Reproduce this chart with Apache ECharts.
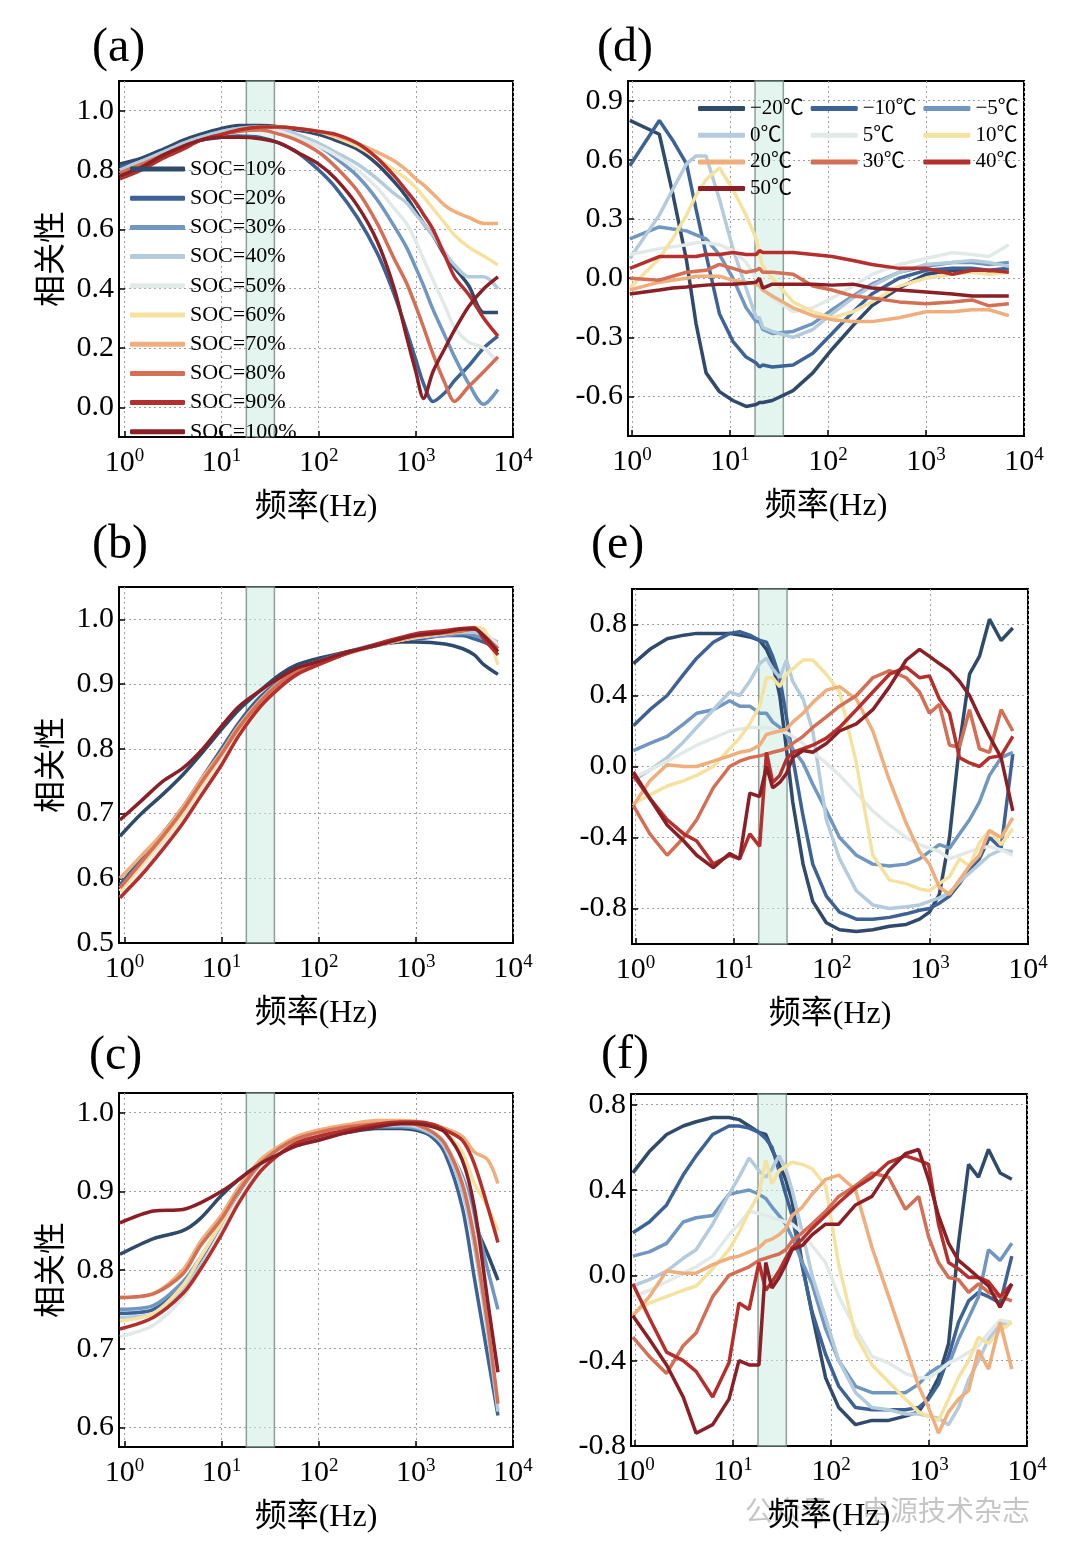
<!DOCTYPE html>
<html><head><meta charset="utf-8">
<script src="https://cdn.jsdelivr.net/npm/echarts@6/dist/echarts.min.js"></script>
<style>html,body{margin:0;padding:0;background:#fff}#c{width:1079px;height:1558px}</style>
</head><body><div id="c"></div>
<script>
const FONT = "'Liberation Serif','Noto Sans CJK SC',serif";

const socNames = ['SOC=10%','SOC=20%','SOC=30%','SOC=40%','SOC=50%','SOC=60%','SOC=70%','SOC=80%','SOC=90%','SOC=100%'];
const tempNames = ['\u221220\u2103','\u221210\u2103','\u22125\u2103','0\u2103','5\u2103','10\u2103','20\u2103','30\u2103','40\u2103','50\u2103'];
const palette = ['#2f4a6b','#3d6396','#7097c2','#b3cbdc','#e1eae9','#f6e2a0','#efae7c','#d46f55','#b5302c','#8a1f26'];
const band = [18, 35];

// (a)
const freqA = [0.9,1.5,2.5,4,6,10,15,25,40,60,100,150,250,400,600,800,1000,1200,1500,2000,2500,3500,5000,7000];
const corrA = [
  [0.82,0.84,0.87,0.90,0.92,0.94,0.95,0.95,0.945,0.935,0.92,0.90,0.87,0.82,0.76,0.71,0.66,0.62,0.58,0.51,0.47,0.41,0.32,0.32],
  [0.81,0.83,0.86,0.88,0.90,0.91,0.915,0.91,0.89,0.86,0.80,0.74,0.64,0.52,0.38,0.26,0.16,0.08,0.02,0.05,0.09,0.14,0.20,0.24],
  [0.80,0.83,0.86,0.89,0.91,0.93,0.94,0.94,0.93,0.91,0.88,0.84,0.78,0.70,0.61,0.54,0.47,0.41,0.33,0.24,0.17,0.08,0.01,0.06],
  [0.80,0.83,0.86,0.89,0.91,0.93,0.94,0.945,0.94,0.92,0.89,0.86,0.82,0.77,0.72,0.69,0.65,0.62,0.58,0.52,0.48,0.44,0.44,0.40],
  [0.79,0.82,0.85,0.88,0.90,0.92,0.935,0.94,0.93,0.91,0.88,0.85,0.80,0.74,0.67,0.62,0.56,0.50,0.43,0.34,0.27,0.22,0.20,0.15],
  [0.79,0.82,0.85,0.88,0.90,0.92,0.935,0.945,0.945,0.94,0.93,0.91,0.88,0.84,0.80,0.77,0.74,0.71,0.67,0.62,0.58,0.54,0.51,0.48],
  [0.78,0.81,0.84,0.87,0.90,0.92,0.935,0.945,0.945,0.94,0.93,0.915,0.89,0.86,0.83,0.80,0.77,0.75,0.72,0.68,0.66,0.64,0.62,0.62],
  [0.79,0.82,0.85,0.88,0.90,0.92,0.93,0.935,0.92,0.90,0.86,0.81,0.73,0.62,0.50,0.42,0.34,0.27,0.18,0.08,0.02,0.07,0.12,0.17],
  [0.77,0.80,0.84,0.87,0.90,0.92,0.935,0.945,0.945,0.94,0.93,0.92,0.89,0.84,0.78,0.73,0.69,0.65,0.60,0.51,0.44,0.38,0.30,0.24],
  [0.78,0.81,0.85,0.88,0.90,0.91,0.91,0.905,0.89,0.86,0.82,0.77,0.68,0.56,0.40,0.24,0.12,0.03,0.12,0.20,0.26,0.34,0.40,0.44]
];
// (b)
const freqB = [0.9,1.5,2.5,4,6,10,15,25,40,60,100,200,400,700,1000,2000,3000,4000,5000,7000];
const corrB = [
  [0.665,0.70,0.73,0.76,0.79,0.83,0.86,0.89,0.915,0.93,0.94,0.95,0.96,0.965,0.965,0.962,0.955,0.945,0.93,0.915],
  [0.59,0.63,0.67,0.71,0.75,0.80,0.84,0.88,0.905,0.92,0.935,0.95,0.96,0.97,0.97,0.975,0.975,0.97,0.965,0.955],
  [0.585,0.625,0.665,0.705,0.745,0.795,0.835,0.875,0.905,0.92,0.935,0.95,0.962,0.97,0.972,0.975,0.978,0.975,0.97,0.96],
  [0.58,0.62,0.66,0.70,0.74,0.79,0.83,0.872,0.90,0.918,0.932,0.948,0.96,0.968,0.972,0.978,0.98,0.98,0.975,0.965],
  [0.57,0.61,0.65,0.695,0.735,0.785,0.828,0.87,0.90,0.918,0.932,0.948,0.96,0.968,0.972,0.978,0.982,0.985,0.98,0.96],
  [0.58,0.62,0.66,0.70,0.74,0.79,0.83,0.872,0.90,0.918,0.932,0.948,0.96,0.968,0.974,0.98,0.985,0.988,0.985,0.93],
  [0.60,0.635,0.67,0.71,0.75,0.795,0.835,0.875,0.903,0.92,0.933,0.948,0.96,0.968,0.973,0.978,0.982,0.985,0.975,0.945],
  [0.585,0.625,0.665,0.705,0.745,0.792,0.832,0.873,0.902,0.92,0.933,0.948,0.96,0.97,0.975,0.98,0.982,0.985,0.975,0.955],
  [0.57,0.605,0.645,0.685,0.725,0.775,0.82,0.865,0.895,0.915,0.93,0.948,0.962,0.972,0.978,0.983,0.986,0.987,0.97,0.945],
  [0.69,0.72,0.75,0.77,0.795,0.835,0.865,0.89,0.91,0.925,0.935,0.95,0.96,0.97,0.975,0.98,0.985,0.985,0.975,0.95]
];
// (c)
const freqC = [0.9,2,4,6,10,15,25,40,60,100,200,400,700,1000,1500,2000,3000,4000,5500,7000];
const corrC = [
  [0.82,0.84,0.85,0.865,0.895,0.915,0.935,0.95,0.96,0.968,0.975,0.98,0.98,0.978,0.97,0.955,0.91,0.86,0.82,0.787],
  [0.745,0.75,0.78,0.81,0.855,0.895,0.93,0.95,0.962,0.97,0.978,0.982,0.982,0.98,0.968,0.948,0.88,0.79,0.69,0.615],
  [0.75,0.755,0.785,0.815,0.86,0.90,0.932,0.952,0.963,0.97,0.978,0.982,0.982,0.98,0.972,0.958,0.92,0.87,0.80,0.75],
  [0.74,0.745,0.775,0.805,0.85,0.89,0.928,0.95,0.962,0.97,0.978,0.983,0.984,0.982,0.972,0.955,0.90,0.83,0.72,0.62],
  [0.715,0.73,0.765,0.80,0.85,0.89,0.928,0.95,0.963,0.972,0.98,0.985,0.986,0.984,0.976,0.962,0.915,0.85,0.75,0.675],
  [0.735,0.745,0.78,0.815,0.86,0.90,0.935,0.955,0.967,0.975,0.983,0.988,0.99,0.988,0.982,0.975,0.95,0.91,0.88,0.85],
  [0.765,0.77,0.80,0.835,0.87,0.905,0.94,0.958,0.97,0.978,0.985,0.99,0.99,0.989,0.985,0.98,0.97,0.95,0.94,0.91],
  [0.765,0.77,0.795,0.83,0.865,0.90,0.935,0.955,0.967,0.975,0.982,0.986,0.987,0.985,0.975,0.96,0.91,0.84,0.73,0.63],
  [0.725,0.74,0.77,0.80,0.845,0.885,0.925,0.948,0.962,0.97,0.978,0.985,0.988,0.988,0.985,0.978,0.965,0.935,0.88,0.835],
  [0.86,0.875,0.877,0.885,0.90,0.915,0.935,0.948,0.958,0.965,0.975,0.982,0.986,0.986,0.982,0.975,0.94,0.88,0.76,0.67]
];
// (d)
const freqD = [0.95,1.9,2.6,3.6,4.5,5.7,7.8,10.7,14.6,18.5,20,21.6,27,44,70,110,180,280,530,1000,1860,2950,4400,7000];
const corrD = [
  [0.80,0.73,0.43,0.09,-0.23,-0.48,-0.575,-0.62,-0.65,-0.64,-0.63,-0.63,-0.62,-0.57,-0.48,-0.36,-0.24,-0.14,-0.05,0.02,0.04,0.04,0.03,0.03],
  [0.57,0.80,0.70,0.58,0.35,0.12,-0.18,-0.32,-0.40,-0.43,-0.45,-0.44,-0.45,-0.44,-0.38,-0.28,-0.17,-0.08,0.0,0.04,0.05,0.05,0.04,0.05],
  [0.20,0.26,0.25,0.24,0.22,0.20,0.12,0.0,-0.15,-0.22,-0.22,-0.26,-0.28,-0.27,-0.23,-0.16,-0.09,-0.03,0.03,0.06,0.08,0.08,0.07,0.08],
  [0.10,0.32,0.45,0.58,0.62,0.62,0.40,0.15,-0.05,-0.20,-0.20,-0.25,-0.27,-0.30,-0.26,-0.18,-0.10,-0.04,0.03,0.07,0.08,0.09,0.08,0.06],
  [0.12,0.15,0.16,0.17,0.18,0.18,0.17,0.14,0.08,0.0,-0.03,-0.06,-0.10,-0.17,-0.15,-0.10,-0.04,0.02,0.07,0.10,0.13,0.12,0.11,0.17],
  [-0.05,0.10,0.20,0.32,0.42,0.50,0.56,0.45,0.32,0.20,0.12,0.06,0.0,-0.12,-0.17,-0.20,-0.17,-0.12,-0.04,0.0,0.02,0.03,0.02,0.03],
  [-0.06,-0.02,-0.01,0.0,0.01,0.01,0.01,-0.01,-0.02,-0.03,-0.04,-0.06,-0.09,-0.15,-0.19,-0.21,-0.22,-0.22,-0.20,-0.17,-0.17,-0.16,-0.16,-0.19],
  [0.0,-0.01,0.01,0.03,0.035,0.04,0.07,0.05,0.03,0.04,0.05,0.03,0.03,0.02,-0.04,-0.06,-0.09,-0.10,-0.12,-0.13,-0.12,-0.11,-0.14,-0.13],
  [0.05,0.11,0.11,0.11,0.11,0.12,0.12,0.13,0.12,0.12,0.14,0.13,0.13,0.13,0.12,0.11,0.09,0.07,0.05,0.05,0.02,0.04,0.04,0.03],
  [-0.08,-0.06,-0.05,-0.045,-0.04,-0.035,-0.03,-0.03,-0.025,-0.02,0.0,-0.05,-0.03,-0.03,-0.03,-0.035,-0.03,-0.05,-0.06,-0.07,-0.08,-0.09,-0.09,-0.09]
];
// (e) and (f) share frequencies
const freqEF = [0.95,1.4,2.1,3.1,4.2,6.2,9.1,11.5,14.6,18.4,21.6,25,29.5,34.5,40,51,64,88,120,178,262,388,574,784,990,1250,1585,2000,2535,3200,4050,5320,7000];
const corrE = [
  [0.58,0.66,0.72,0.74,0.75,0.75,0.75,0.74,0.73,0.71,0.66,0.58,0.40,0.10,-0.20,-0.55,-0.76,-0.88,-0.92,-0.93,-0.92,-0.90,-0.89,-0.86,-0.82,-0.72,-0.40,0.12,0.52,0.62,0.83,0.71,0.78],
  [0.23,0.32,0.40,0.52,0.61,0.70,0.75,0.76,0.74,0.71,0.70,0.62,0.50,0.28,0.05,-0.28,-0.55,-0.73,-0.82,-0.86,-0.86,-0.85,-0.83,-0.81,-0.80,-0.77,-0.73,-0.66,-0.58,-0.52,-0.40,-0.46,0.07],
  [0.09,0.13,0.17,0.24,0.30,0.32,0.37,0.34,0.34,0.30,0.30,0.25,0.22,0.18,0.10,0.02,-0.10,-0.25,-0.40,-0.50,-0.55,-0.56,-0.55,-0.52,-0.48,-0.44,-0.46,-0.38,-0.30,-0.20,-0.05,0.05,0.08],
  [-0.08,-0.02,0.05,0.14,0.22,0.32,0.42,0.40,0.48,0.58,0.61,0.55,0.50,0.60,0.48,0.38,0.20,-0.30,-0.52,-0.70,-0.78,-0.80,-0.79,-0.78,-0.76,-0.74,-0.71,-0.65,-0.60,-0.55,-0.50,-0.47,-0.48],
  [-0.06,-0.02,0.03,0.08,0.12,0.16,0.20,0.21,0.22,0.22,0.22,0.21,0.20,0.19,0.17,0.13,0.08,0.02,-0.05,-0.15,-0.25,-0.33,-0.40,-0.44,-0.46,-0.48,-0.52,-0.50,-0.48,-0.46,-0.45,-0.47,-0.50],
  [-0.21,-0.16,-0.11,-0.08,-0.05,0.0,0.10,0.16,0.24,0.34,0.50,0.50,0.45,0.52,0.55,0.60,0.60,0.52,0.42,0.02,-0.50,-0.64,-0.66,-0.69,-0.70,-0.66,-0.62,-0.52,-0.56,-0.43,-0.36,-0.44,-0.35],
  [-0.22,-0.08,0.01,0.0,0.0,0.03,0.06,0.08,0.09,0.12,0.18,0.19,0.20,0.21,0.25,0.30,0.36,0.43,0.45,0.38,0.20,-0.08,-0.32,-0.48,-0.55,-0.68,-0.72,-0.64,-0.56,-0.50,-0.36,-0.40,-0.29],
  [-0.22,-0.38,-0.50,-0.40,-0.30,-0.12,0.0,0.03,0.05,0.06,0.07,0.08,0.09,0.10,0.13,0.17,0.22,0.28,0.34,0.40,0.50,0.54,0.50,0.42,0.30,0.35,0.12,0.11,0.32,0.10,0.08,0.32,0.20],
  [-0.05,-0.18,-0.30,-0.38,-0.42,-0.55,-0.50,-0.52,-0.38,-0.45,0.08,-0.09,-0.05,0.04,0.08,0.10,0.12,0.16,0.22,0.32,0.42,0.52,0.56,0.50,0.51,0.38,0.30,0.05,0.02,0.0,0.05,0.06,0.17],
  [-0.03,-0.18,-0.33,-0.42,-0.50,-0.57,-0.49,-0.52,-0.15,-0.17,0.0,-0.12,-0.09,-0.04,0.05,0.09,0.08,0.13,0.20,0.24,0.32,0.45,0.60,0.66,0.62,0.58,0.54,0.48,0.40,0.28,0.17,0.05,-0.25]
];
const corrF = [
  [0.48,0.58,0.66,0.70,0.72,0.74,0.74,0.73,0.70,0.67,0.66,0.59,0.52,0.45,0.35,0.05,-0.18,-0.48,-0.62,-0.70,-0.68,-0.68,-0.66,-0.64,-0.57,-0.48,-0.32,0.15,0.52,0.46,0.59,0.48,0.45],
  [0.20,0.25,0.33,0.47,0.56,0.66,0.70,0.70,0.69,0.67,0.64,0.60,0.49,0.38,0.28,0.04,-0.17,-0.37,-0.52,-0.62,-0.63,-0.63,-0.63,-0.62,-0.58,-0.51,-0.38,-0.22,-0.12,-0.08,-0.10,-0.13,0.09],
  [0.09,0.11,0.15,0.25,0.27,0.28,0.38,0.39,0.40,0.38,0.36,0.32,0.28,0.24,0.18,0.06,-0.04,-0.25,-0.40,-0.52,-0.55,-0.55,-0.55,-0.51,-0.46,-0.43,-0.42,-0.30,-0.20,-0.10,0.12,0.07,0.15],
  [-0.05,-0.02,0.02,0.08,0.12,0.24,0.38,0.46,0.55,0.49,0.46,0.50,0.56,0.50,0.40,0.20,0.0,-0.20,-0.40,-0.55,-0.62,-0.63,-0.65,-0.65,-0.66,-0.67,-0.70,-0.62,-0.49,-0.40,-0.30,-0.23,-0.22],
  [-0.10,-0.07,-0.03,0.01,0.04,0.09,0.19,0.24,0.30,0.29,0.28,0.27,0.26,0.25,0.24,0.20,0.14,0.06,-0.10,-0.25,-0.38,-0.41,-0.46,-0.48,-0.48,-0.45,-0.41,-0.39,-0.36,-0.33,-0.27,-0.21,-0.22],
  [-0.18,-0.13,-0.10,-0.07,-0.05,0.03,0.12,0.20,0.30,0.38,0.54,0.43,0.49,0.51,0.53,0.52,0.50,0.42,0.05,-0.28,-0.42,-0.50,-0.58,-0.64,-0.66,-0.68,-0.58,-0.48,-0.40,-0.29,-0.32,-0.26,-0.22],
  [-0.19,-0.10,0.02,0.01,0.01,0.05,0.08,0.09,0.11,0.13,0.16,0.17,0.19,0.22,0.28,0.32,0.38,0.45,0.47,0.40,0.13,-0.10,-0.33,-0.52,-0.62,-0.74,-0.64,-0.58,-0.54,-0.35,-0.44,-0.22,-0.44],
  [-0.29,-0.38,-0.46,-0.33,-0.27,-0.10,0.0,0.02,0.04,0.07,0.08,0.09,0.10,0.12,0.16,0.20,0.24,0.30,0.37,0.42,0.48,0.46,0.31,0.37,0.18,0.06,-0.01,-0.02,-0.08,-0.04,-0.08,-0.10,-0.12],
  [-0.04,-0.20,-0.36,-0.40,-0.45,-0.57,-0.41,-0.13,-0.16,0.06,-0.07,-0.03,0.02,0.08,0.13,0.17,0.22,0.28,0.34,0.41,0.46,0.53,0.56,0.54,0.52,0.24,0.06,0.03,-0.01,-0.01,-0.03,-0.10,-0.04],
  [-0.19,-0.30,-0.42,-0.57,-0.74,-0.70,-0.58,-0.40,-0.42,-0.42,0.06,-0.06,-0.01,0.05,0.12,0.14,0.19,0.24,0.24,0.33,0.37,0.49,0.57,0.59,0.45,0.28,0.15,0.07,0.03,-0.01,-0.05,-0.15,-0.04]
];

const yTicksA = [0,0.2,0.4,0.6,0.8,1.0];
const yTicksB = [0.5,0.6,0.7,0.8,0.9,1.0];
const yTicksC = [0.6,0.7,0.8,0.9,1.0];
const yTicksD = [-0.6,-0.3,0,0.3,0.6,0.9];
const yTicksE = [-0.8,-0.4,0,0.4,0.8];
const yTicksF = [-0.8,-0.4,0,0.4,0.8];

const panels = [
  {label:'(a)', lx:92, ly:24, grid:{left:119,top:81,width:394,height:356}, xmin:0.88, ymin:-0.1, ymax:1.1, ticks:yTicksA, freq:freqA, vals:corrA, names:socNames, yname:'相关性', smooth:0.3},
  {label:'(b)', lx:92, ly:521, grid:{left:119,top:587,width:394,height:356}, xmin:0.88, ymin:0.5, ymax:1.05, ticks:yTicksB, freq:freqB, vals:corrB, names:socNames, yname:'相关性', smooth:0.3},
  {label:'(c)', lx:89, ly:1032, grid:{left:119,top:1093,width:394,height:354}, xmin:0.88, ymin:0.575, ymax:1.025, ticks:yTicksC, freq:freqC, vals:corrC, names:socNames, yname:'相关性', smooth:0.3},
  {label:'(d)', lx:597, ly:24, grid:{left:628,top:81,width:396,height:355}, xmin:0.91, ymin:-0.8, ymax:1.0, ticks:yTicksD, freq:freqD, vals:corrD, names:tempNames, yname:'', smooth:false},
  {label:'(e)', lx:591, ly:521, grid:{left:632,top:589,width:396,height:355}, xmin:0.92, ymin:-1.0, ymax:1.0, ticks:yTicksE, freq:freqEF, vals:corrE, names:tempNames, yname:'', smooth:false},
  {label:'(f)', lx:601, ly:1031, grid:{left:631,top:1094,width:396,height:352}, xmin:0.91, ymin:-0.8, ymax:0.85, ticks:yTicksF, freq:freqEF, vals:corrF, names:tempNames, yname:'', smooth:false}
];

const gridLine = {show:true, lineStyle:{color:'#a0a0a0', type:[2,3], width:1}};
const grids = [], xAxes = [], yAxes = [], series = [], graphics = [];

panels.forEach((p, i) => {
  grids.push(Object.assign({show:true, borderColor:'#000', borderWidth:2, containLabel:false}, p.grid));
  xAxes.push({
    type:'log', logBase:10, gridIndex:i, min:p.xmin, max:10000,
    axisLine:{show:true, onZero:false, lineStyle:{color:'#000', width:2}},
    axisTick:{show:true, inside:true, length:6, lineStyle:{color:'#000', width:1.5}},
    axisLabel:{
      show:true, showMinLabel:false, margin:10, color:'#000',
      formatter: v => { const e = Math.log10(v); const r = Math.round(e); return Math.abs(e - r) < 1e-6 ? '{b|10}{s|' + r + '}' : ''; },
      rich:{ b:{fontSize:30, fontFamily:FONT, color:'#000', lineHeight:32}, s:{fontSize:19, fontFamily:FONT, color:'#000', lineHeight:17, verticalAlign:'top'} }
    },
    splitLine:gridLine,
    name:'频率(Hz)', nameLocation:'middle', nameGap:55,
    nameTextStyle:{fontSize:32, fontFamily:FONT, color:'#000'}
  });
  yAxes.push({
    type:'value', gridIndex:i, min:p.ymin, max:p.ymax,
    axisLine:{show:true, onZero:false, lineStyle:{color:'#000', width:2}},
    axisTick:{show:true, inside:true, length:6, customValues:p.ticks, lineStyle:{color:'#000', width:1.5}},
    axisLabel:{customValues:p.ticks, formatter: v => Number(v).toFixed(1), fontSize:30, fontFamily:FONT, color:'#000', margin:5},
    splitLine:gridLine,
    name:p.yname, nameLocation:'middle', nameGap:50, nameRotate:90,
    nameTextStyle:{fontSize:32, fontFamily:FONT, color:'#000'}
  });
  p.vals.forEach((arr, k) => {
    series.push({
      type:'line', name:p.names[k], xAxisIndex:i, yAxisIndex:i,
      data: p.freq.map((f, j) => [f, arr[j]]),
      symbol:'none', showSymbol:false, smooth:p.smooth,
      lineStyle:{width:3.5, color:palette[k]}, itemStyle:{color:palette[k]},
      z:2
    });
  });
  series.push({
    type:'line', name:'band' + i, xAxisIndex:i, yAxisIndex:i, data:[], silent:true, z:5,
    markArea:{silent:true, itemStyle:{color:'rgba(206,237,226,0.55)', borderColor:'rgba(120,145,138,0.85)', borderWidth:1.5},
      data:[[{xAxis:band[0]},{xAxis:band[1]}]]}
  });
  graphics.push({type:'text', left:p.lx, top:p.ly, style:{text:p.label, font:'48px ' + FONT, fill:'#000'}});
});

graphics.push({type:'text', left:745, top:1496, z:-1, style:{text:'公众号', font:'28px "Noto Sans CJK SC"', fill:'rgba(150,150,150,0.55)'}});
graphics.push({type:'text', left:862, top:1496, z:-1, style:{text:'电源技术杂志', font:'28px "Noto Sans CJK SC"', fill:'rgba(150,150,150,0.55)'}});

const chart = echarts.init(document.getElementById('c'), null, {renderer:'canvas'});
chart.setOption({
  animation:false,
  backgroundColor:'#fff',
  grid:grids, xAxis:xAxes, yAxis:yAxes, series:series, graphic:graphics,
  legend:[
    {data:socNames, orient:'vertical', left:125, top:153, icon:'roundRect', itemWidth:55, itemHeight:5, itemGap:7.2,
     textStyle:{fontSize:22, fontFamily:FONT, color:'#000', lineHeight:22}},
    {data:tempNames, orient:'horizontal', left:693, top:93, width:345, icon:'roundRect', itemWidth:47, itemHeight:5, itemGap:5.7,
     textStyle:{fontSize:21, fontFamily:FONT, color:'#000', lineHeight:20, width:55}}
  ]
});
</script></body></html>
